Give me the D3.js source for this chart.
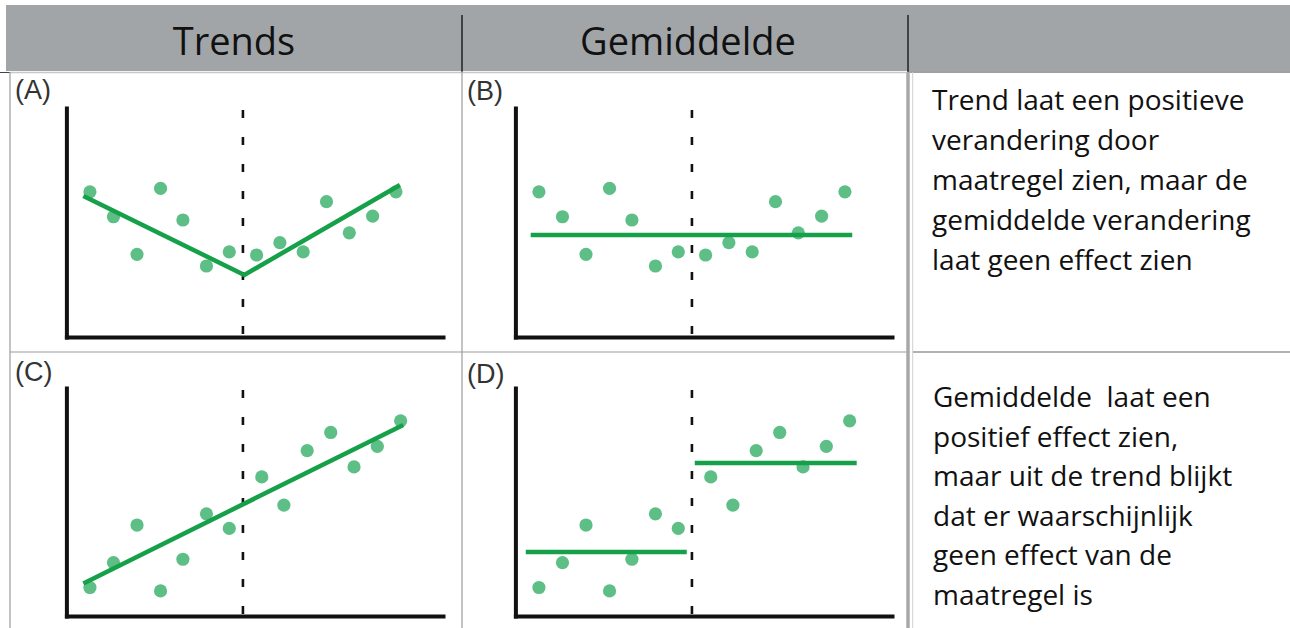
<!DOCTYPE html>
<html>
<head>
<script src="https://d3js.org/d3.v7.min.js"></script>
<style>
  body { margin: 0; background: #fff; }
  text { font-family: "Open Sans", sans-serif; white-space: pre; }
</style>
</head>
<body>
<svg id="chart" width="1290" height="628"></svg>
<script>
// meetmomenten en waarden (A en B delen dezelfde punten, C en D ook)
const timesAB = [1, 2, 3, 4, 4.95, 5.95, 6.92, 8.08, 9.07, 10.06, 11.05, 12.02, 13.01, 14.0];
const valuesAB = [6.34, 5.25, 3.61, 6.49, 5.11, 3.10, 3.72, 3.58, 4.12, 3.72, 5.91, 4.55, 5.28, 6.34];
const timesCD = [1, 2, 3, 4, 4.95, 5.95, 6.92, 8.3, 9.24, 10.23, 11.23, 12.22, 13.21, 14.2];
const valuesCD = [1.25, 2.34, 3.99, 1.10, 2.49, 4.48, 3.84, 6.10, 4.86, 7.25, 8.05, 6.54, 7.44, 8.56];
const interventionTime = 7.5;

// lijnen: trend / gemiddelde
const fitA = [[[0.72, 6.16], [7.56, 2.71], [14.17, 6.64]]];
const fitB = [[[0.65, 4.45], [14.31, 4.45]]];
const fitC = [[[0.72, 1.43], [14.31, 8.38]]];
const fitD = [[[0.44, 2.81], [7.28, 2.81]], [[7.62, 6.71], [14.5, 6.71]]];

const headers = ["Trends", "Gemiddelde"];
const panelLabels = ["(A)", "(B)", "(C)", "(D)"];
const textTop = ["Trend laat een positieve", "verandering door", "maatregel zien, maar de", "gemiddelde verandering", "laat geen effect zien"];
const textBottom = ["Gemiddelde  laat een", "positief effect zien,", "maar uit de trend blijkt", "dat er waarschijnlijk", "geen effect van de", "maatregel is"];

const svg = d3.select("#chart");

// kop
svg.append("rect").attr("x", 6).attr("y", 5).attr("width", 1284).attr("height", 66).attr("fill", "#a1a5a8");
svg.selectAll(".hdr").data(headers).join("text")
  .attr("x", (d, i) => [234, 688][i]).attr("y", 55)
  .attr("text-anchor", "middle").attr("font-size", 38).attr("fill", "#111")
  .text(d => d);
[462, 908].forEach(x => {
  svg.append("line").attr("x1", x).attr("x2", x).attr("y1", 15).attr("y2", 72)
    .attr("stroke", "#222").attr("stroke-width", 1.5);
});
svg.append("line").attr("x1", 908).attr("x2", 1290).attr("y1", 72).attr("y2", 72).attr("stroke", "#444").attr("stroke-width", 1.2);
svg.append("line").attr("x1", 0).attr("x2", 10).attr("y1", 72.5).attr("y2", 72.5).attr("stroke", "#444").attr("stroke-width", 1);
svg.append("line").attr("x1", 10).attr("x2", 906).attr("y1", 72.5).attr("y2", 72.5).attr("stroke", "#c8c8c8").attr("stroke-width", 1.5);

// randen rond de figuren
const grid = svg.append("g").attr("stroke", "#9c9c9c").attr("stroke-width", 1.2);
grid.append("line").attr("x1", 10).attr("x2", 10).attr("y1", 72).attr("y2", 628);
grid.append("line").attr("x1", 462).attr("x2", 462).attr("y1", 72).attr("y2", 628);
grid.append("line").attr("x1", 10).attr("x2", 910).attr("y1", 352).attr("y2", 352);
svg.append("line").attr("x1", 908).attr("x2", 908).attr("y1", 72).attr("y2", 628).attr("stroke", "#a8a8a8").attr("stroke-width", 3.5);
svg.append("line").attr("x1", 912.7).attr("x2", 912.7).attr("y1", 72).attr("y2", 628).attr("stroke", "#d0d0d0").attr("stroke-width", 1);
svg.append("line").attr("x1", 913).attr("x2", 1290).attr("y1", 352).attr("y2", 352).attr("stroke", "#666").attr("stroke-width", 1.2);

// panelen
const panels = [
  {label: panelLabels[0], times: timesAB, values: valuesAB, fit: fitA, dx: 0, yr: [337, 108], dashTop: 110, lx: 15, ly: 99},
  {label: panelLabels[1], times: timesAB, values: valuesAB, fit: fitB, dx: 449, yr: [337, 108], dashTop: 110, lx: 467, ly: 100},
  {label: panelLabels[2], times: timesCD, values: valuesCD, fit: fitC, dx: 0, yr: [616, 388], dashTop: 390, lx: 15, ly: 381},
  {label: panelLabels[3], times: timesCD, values: valuesCD, fit: fitD, dx: 449, yr: [616, 388], dashTop: 390, lx: 467, ly: 383}
];

panels.forEach(p => {
  const x = d3.scaleLinear().domain([0, 16]).range([66.4 + p.dx, 443 + p.dx]);
  const y = d3.scaleLinear().domain([0, 10]).range(p.yr);
  const g = svg.append("g");

  g.append("text").attr("x", p.lx).attr("y", p.ly)
    .style("font-family", "'Liberation Sans', Arial, sans-serif")
    .attr("font-size", 27).attr("fill", "#333").text(p.label);

  // assen zonder tickmarks
  const ax = g.append("g").attr("transform", `translate(0,${y(0)})`)
    .call(d3.axisBottom(x).ticks(0).tickSizeOuter(0));
  const ay = g.append("g").attr("transform", `translate(${x(0)},0)`)
    .call(d3.axisLeft(y).ticks(0).tickSizeOuter(0));
  [ax, ay].forEach(a => a.select(".domain").attr("stroke", "#111").attr("stroke-width", 4).attr("stroke-linecap", "square"));

  // moment van de maatregel
  g.append("line")
    .attr("x1", x(interventionTime)).attr("x2", x(interventionTime))
    .attr("y1", p.dashTop).attr("y2", y(0))
    .attr("stroke", "#111").attr("stroke-width", 2.6).attr("stroke-dasharray", "8 19");

  g.selectAll("circle").data(p.times).join("circle")
    .attr("cx", d => x(d)).attr("cy", (d, i) => y(p.values[i]))
    .attr("r", 6.6).attr("fill", "#5ebf86");

  const line = d3.line().x(d => x(d[0])).y(d => y(d[1]));
  g.selectAll(".fit").data(p.fit).join("path")
    .attr("d", line).attr("fill", "none")
    .attr("stroke", "#16a04a").attr("stroke-width", 4.5);
});

// toelichting rechts
svg.selectAll(".t1").data(textTop).join("text")
  .attr("x", 932).attr("y", (d, i) => 110 + i * 40)
  .attr("font-size", 28).attr("fill", "#111").text(d => d);
svg.selectAll(".t2").data(textBottom).join("text")
  .attr("x", 933).attr("y", (d, i) => 407 + i * 39.6)
  .attr("font-size", 28).attr("fill", "#111").text(d => d);
</script>
</body>
</html>
